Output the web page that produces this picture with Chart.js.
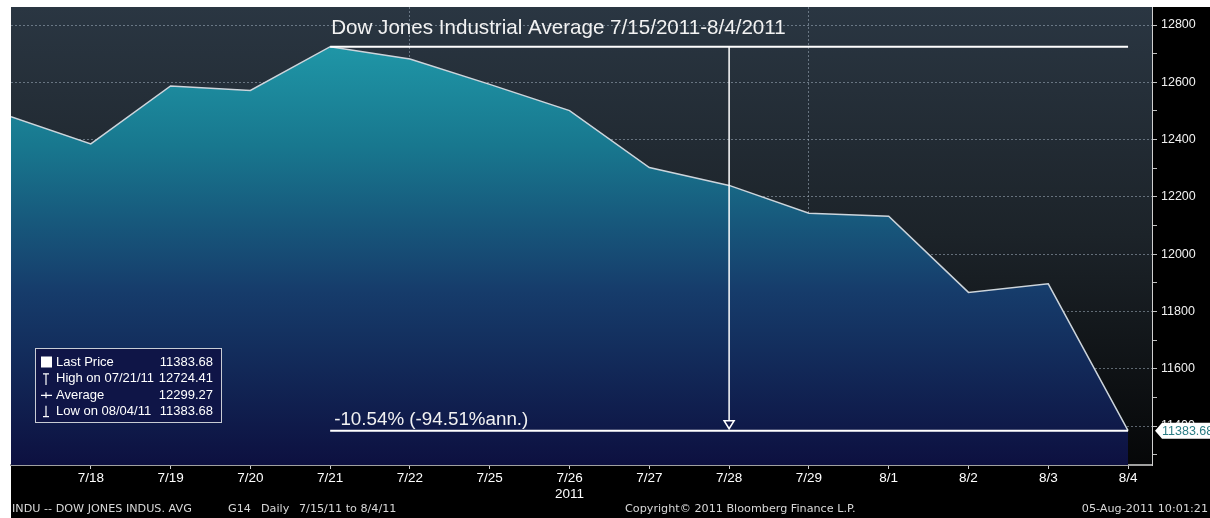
<!DOCTYPE html>
<html lang="en">
<head>
  <meta charset="UTF-8">
  <title>Dow Jones Industrial Average 7/15/2011-8/4/2011</title>
  <script src="https://cdn.jsdelivr.net/npm/chart.js"></script>
  <style>
    html, body { margin: 0; padding: 0; background: #fff; }
    #wrap { position: relative; width: 1210px; height: 518px; }
  </style>
</head>
<body>
  <div id="wrap"><canvas id="chart" width="1210" height="518"></canvas></div>

  <script>
    // daily closes, INDU
    const dates = ['7/15', '7/18', '7/19', '7/20', '7/21', '7/22', '7/25', '7/26', '7/27', '7/28', '7/29', '8/1', '8/2', '8/3', '8/4'];
    const closes = [12479.73, 12385.16, 12587.42, 12571.91, 12724.41, 12681.16, 12592.80, 12501.30, 12302.55, 12240.11, 12143.24, 12132.49, 11866.62, 11896.44, 11383.68];
    const yTicks = [11300, 11400, 11500, 11600, 11700, 11800, 11900, 12000, 12100, 12200, 12300, 12400, 12500, 12600, 12700, 12800];
    const fridays = [5, 10];

    const legendRows = [
      ['Last Price', '11383.68'],
      ['High on 07/21/11', '12724.41'],
      ['Average', '12299.27'],
      ['Low on 08/04/11', '11383.68']
    ];
    const titleText = 'Dow Jones Industrial Average 7/15/2011-8/4/2011';
    const changeText = '-10.54% (-94.51%ann.)';
    const footLeft = [['INDU -- DOW JONES INDUS. AVG', 12], ['G14', 228], ['Daily', 261], ['7/15/11 to 8/4/11', 299]];
    const footMid = 'Copyright\u00A9 2011 Bloomberg Finance L.P.';
    const footRight = '05-Aug-2011 10:01:21';

    const FONT = '"Liberation Sans", Arial, sans-serif';
    const FOOT_FONT = '"DejaVu Sans", Verdana, sans-serif';
    const dotted = 'rgba(160,175,190,0.55)';

    const hiIdx = closes.indexOf(Math.max(...closes));
    const loIdx = closes.length - 1;
    const arrowIdx = 9;

    const framePlugin = {
      id: 'frame',
      beforeDraw(chart) {
        const { ctx, chartArea: a } = chart;
        ctx.save();
        ctx.fillStyle = '#ffffff';
        ctx.fillRect(0, 0, chart.width, chart.height);
        ctx.fillStyle = '#000000';
        ctx.fillRect(a.left, a.top, chart.width - a.left, chart.height - a.top);
        const g = ctx.createLinearGradient(0, a.top, 0, a.bottom);
        g.addColorStop(0, '#2a3642');
        g.addColorStop(0.5, '#1c2329');
        g.addColorStop(1, '#060708');
        ctx.fillStyle = g;
        ctx.fillRect(a.left, a.top, a.right - a.left, a.bottom - a.top);
        ctx.restore();
      },
      afterDraw(chart) {
        const { ctx, chartArea: a } = chart;
        const xs = chart.scales.x, ys = chart.scales.y;
        const hi = closes[hiIdx], lo = closes[loIdx];
        const x1 = xs.getPixelForValue(hiIdx), x2 = xs.getPixelForValue(loIdx);
        const yHi = ys.getPixelForValue(hi), yLo = ys.getPixelForValue(lo);
        const xa = xs.getPixelForValue(arrowIdx);
        ctx.save();

        // high / low lines and arrow
        ctx.strokeStyle = '#ffffff';
        ctx.lineWidth = 2;
        ctx.beginPath();
        ctx.moveTo(x1, yHi); ctx.lineTo(x2, yHi);
        ctx.moveTo(x1, yLo); ctx.lineTo(x2, yLo);
        ctx.stroke();
        ctx.lineWidth = 1.5;
        ctx.beginPath();
        ctx.moveTo(xa, yHi); ctx.lineTo(xa, yLo - 10);
        ctx.stroke();
        ctx.beginPath();
        ctx.moveTo(xa - 5, yLo - 10); ctx.lineTo(xa + 5, yLo - 10); ctx.lineTo(xa, yLo - 2); ctx.closePath();
        ctx.fillStyle = '#0f1445';
        ctx.fill();
        ctx.stroke();

        // texts
        ctx.fillStyle = '#f2f2f2';
        ctx.font = '20.6px ' + FONT;
        ctx.textBaseline = 'middle';
        ctx.textAlign = 'left';
        ctx.fillText(titleText, x1 + 1, 28);
        ctx.font = '18.8px ' + FONT;
        ctx.textBaseline = 'alphabetic';
        ctx.fillText(changeText, x1 + 4, yLo - 6);

        // legend box
        const lx = 35, ly = 348, lw = 186, lh = 74;
        ctx.fillStyle = '#0f1547';
        ctx.fillRect(lx, ly, lw, lh);
        ctx.strokeStyle = '#c8ccd4';
        ctx.lineWidth = 1;
        ctx.strokeRect(lx + 0.5, ly + 0.5, lw, lh);
        ctx.font = '13px ' + FONT;
        ctx.textBaseline = 'middle';
        legendRows.forEach((r, i) => {
          const cy = ly + 14.5 + i * 16.4;
          ctx.fillStyle = '#ffffff';
          ctx.strokeStyle = '#ffffff';
          ctx.lineWidth = 1.2;
          if (i === 0) {
            ctx.fillRect(lx + 6, cy - 6, 11, 11);
          } else if (i === 1) {
            ctx.beginPath();
            ctx.moveTo(lx + 8, cy - 5); ctx.lineTo(lx + 14, cy - 5);
            ctx.moveTo(lx + 11, cy - 5); ctx.lineTo(lx + 11, cy + 6);
            ctx.stroke();
          } else if (i === 2) {
            ctx.beginPath();
            ctx.moveTo(lx + 6, cy); ctx.lineTo(lx + 17, cy);
            ctx.moveTo(lx + 11, cy - 3); ctx.lineTo(lx + 11, cy + 3);
            ctx.stroke();
          } else {
            ctx.beginPath();
            ctx.moveTo(lx + 11, cy - 6); ctx.lineTo(lx + 11, cy + 5);
            ctx.moveTo(lx + 8, cy + 5); ctx.lineTo(lx + 14, cy + 5);
            ctx.stroke();
          }
          ctx.textAlign = 'left';
          ctx.fillText(r[0], lx + 21, cy);
          ctx.textAlign = 'right';
          ctx.fillText(r[1], lx + lw - 8, cy);
        });

        // last price tag on the axis
        const tx = a.right + 3;
        ctx.beginPath();
        ctx.moveTo(tx, yLo);
        ctx.lineTo(tx + 7, yLo - 8);
        ctx.lineTo(chart.width, yLo - 8);
        ctx.lineTo(chart.width, yLo + 8);
        ctx.lineTo(tx + 7, yLo + 8);
        ctx.closePath();
        ctx.fillStyle = '#ffffff';
        ctx.fill();
        ctx.fillStyle = '#2b7c84';
        ctx.font = '12.5px ' + FONT;
        ctx.textAlign = 'left';
        ctx.fillText(lo.toFixed(2), tx + 7, yLo + 1);

        // footer
        ctx.fillStyle = '#d8d8d8';
        ctx.font = '11.2px ' + FOOT_FONT;
        ctx.textBaseline = 'middle';
        ctx.textAlign = 'left';
        footLeft.forEach(([t, x]) => ctx.fillText(t, x, 509));
        ctx.fillText(footMid, 625, 509);
        ctx.textAlign = 'right';
        ctx.fillText(footRight, 1208, 509);
        ctx.restore();
      }
    };

    const ctx = document.getElementById('chart').getContext('2d');
    const chart = new Chart(ctx, {
      type: 'line',
      data: {
        datasets: [{
          data: closes.map((v, i) => ({ x: i, y: v })),
          borderColor: '#cdd5dc',
          borderWidth: 1.5,
          pointRadius: 0,
          tension: 0,
          fill: 'start',
          backgroundColor: (c) => {
            const a = c.chart.chartArea;
            if (!a) return '#16607f';
            const g = c.chart.ctx.createLinearGradient(0, a.top, 0, a.bottom);
            g.addColorStop(0, '#22a2b0');
            g.addColorStop(0.3, '#18788f');
            g.addColorStop(0.62, '#163c6b');
            g.addColorStop(1, '#0d1040');
            return g;
          }
        }]
      },
      options: {
        responsive: false,
        animation: false,
        layout: { padding: { left: 11, top: 7 } },
        plugins: { legend: { display: false }, tooltip: { enabled: false } },
        scales: {
          x: {
            type: 'linear',
            min: 0,
            max: 14.3,
            z: 1,
            afterBuildTicks: (s) => { s.ticks = dates.map((d, i) => ({ value: i })); },
            afterFit: (s) => { s.height = 53; s.paddingLeft = 0; s.paddingRight = 0; },
            grid: {
              color: (c) => fridays.includes(c.tick && c.tick.value) ? dotted : 'transparent',
              tickColor: (c) => (c.tick && c.tick.value > 0) ? '#d0d0d0' : 'transparent',
              tickLength: 4
            },
            border: { color: '#a0a0a0', width: 2, dash: [2, 2] },
            ticks: {
              color: '#ffffff',
              padding: 1,
              maxRotation: 0,
              autoSkip: false,
              font: { family: FONT, size: 13.5 },
              callback: (v) => v === 0 ? '' : (v === 7 ? [dates[v], '2011'] : dates[v])
            }
          },
          y: {
            position: 'right',
            min: 11264,
            max: 12863,
            z: 1,
            afterBuildTicks: (s) => { s.ticks = yTicks.map(v => ({ value: v })); },
            afterFit: (s) => { s.width = 58; s.paddingTop = 0; s.paddingBottom = 0; },
            grid: {
              color: (c) => (c.tick && c.tick.value % 200 === 0) ? dotted : 'transparent',
              tickColor: '#c0c0c0',
              tickLength: 5
            },
            border: { color: '#d0d0d0', width: 1, dash: [2, 2] },
            ticks: {
              color: '#f0f0f0',
              padding: 4,
              autoSkip: false,
              font: { family: FONT, size: 12.5 },
              callback: (v) => v % 200 === 0 ? String(v) : ''
            }
          }
        }
      },
      plugins: [framePlugin]
    });
  </script>
</body>
</html>
